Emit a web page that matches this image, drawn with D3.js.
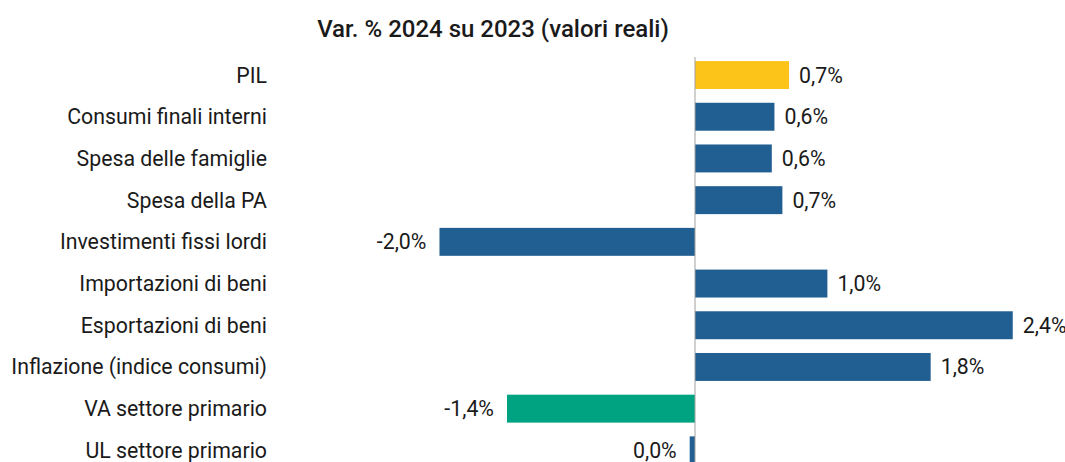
<!DOCTYPE html>
<html>
<head>
<meta charset="utf-8">
<script src="https://cdn.jsdelivr.net/npm/d3@7"></script>
<style>
  html, body { margin: 0; padding: 0; background: #fff; }
  svg { display: block; font-family: Roboto, "Noto Sans", sans-serif; }
</style>
</head>
<body>
<svg width="1065" height="462"></svg>
<script>
// categories and values (var. % 2024 su 2023, valori reali)
var categories = [
  "PIL",
  "Consumi finali interni",
  "Spesa delle famiglie",
  "Spesa della PA",
  "Investimenti fissi lordi",
  "Importazioni di beni",
  "Esportazioni di beni",
  "Inflazione (indice consumi)",
  "VA settore primario",
  "UL settore primario"
];
var values = [0.71, 0.6, 0.58, 0.66, -1.93, 1.0, 2.4, 1.78, -1.42, -0.04];
var valueLabels = ["0,7%", "0,6%", "0,6%", "0,7%", "-2,0%", "1,0%", "2,4%", "1,8%", "-1,4%", "0,0%"];
var colors = ["#fcc419", "#215e91", "#215e91", "#215e91", "#215e91",
              "#215e91", "#215e91", "#215e91", "#00a381", "#215e91"];

var title = "Var. % 2024 su 2023 (valori reali)";

var svg = d3.select("svg");

var x = d3.scaleLinear()
    .domain([-2.5, 2.5])
    .range([364, 1026]);

var y = d3.scaleBand()
    .domain(categories)
    .range([54.2, 471.2])
    .paddingInner(0.33)
    .paddingOuter(0.165);

var rows = categories.map(function(c, i) {
  return { cat: c, v: values[i], label: valueLabels[i], color: colors[i] };
});

svg.append("text")
    .attr("x", 493)
    .attr("y", 37)
    .attr("text-anchor", "middle")
    .attr("font-size", 24)
    .attr("font-weight", 500)
    .attr("fill", "#1a1a1a")
    .text(title);

// bars
svg.selectAll("rect.bar")
    .data(rows)
  .enter().append("rect")
    .attr("class", "bar")
    .attr("x", function(d) { return x(Math.min(0, d.v)); })
    .attr("y", function(d) { return y(d.cat); })
    .attr("width", function(d) { return Math.abs(x(d.v) - x(0)); })
    .attr("height", y.bandwidth())
    .attr("fill", function(d) { return d.color; });

// zero line
svg.append("line")
    .attr("x1", x(0)).attr("x2", x(0))
    .attr("y1", 57).attr("y2", 462)
    .attr("stroke", "#a0a0a0")
    .attr("stroke-width", 1);

// category labels
svg.selectAll("text.cat")
    .data(rows)
  .enter().append("text")
    .attr("class", "cat")
    .attr("x", 267)
    .attr("y", function(d) { return y(d.cat) + y.bandwidth() / 2; })
    .attr("dy", "0.35em")
    .attr("text-anchor", "end")
    .attr("font-size", 21.3)
    .attr("fill", "#1a1a1a")
    .text(function(d) { return d.cat; });

// value labels
svg.selectAll("text.val")
    .data(rows)
  .enter().append("text")
    .attr("class", "val")
    .attr("x", function(d) { return d.v >= 0 ? x(d.v) + 10 : x(d.v) - 13; })
    .attr("y", function(d) { return y(d.cat) + y.bandwidth() / 2; })
    .attr("dy", "0.35em")
    .attr("text-anchor", function(d) { return d.v >= 0 ? "start" : "end"; })
    .attr("font-size", 21.3)
    .attr("fill", "#1a1a1a")
    .text(function(d) { return d.label; });
</script>
</body>
</html>
